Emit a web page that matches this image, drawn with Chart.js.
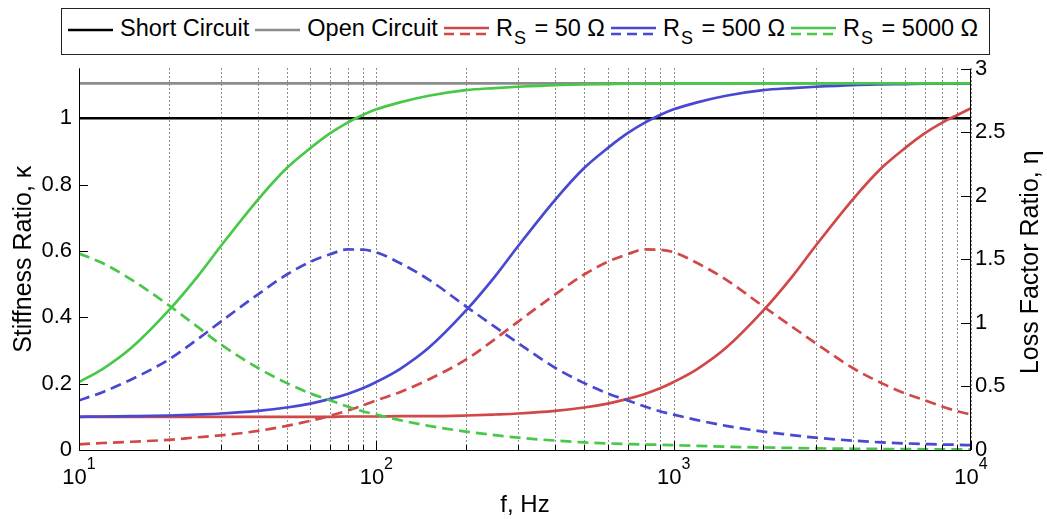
<!DOCTYPE html>
<html>
<head>
<meta charset="UTF-8">
<title>Stiffness and loss factor ratio vs frequency</title>
<script src="https://cdn.jsdelivr.net/npm/chart.js"></script>
<style>
  body { margin: 0; background: #fff; font-family: "Liberation Sans", Arial, sans-serif; }
  #wrap { position: relative; width: 1047px; height: 519px; }
  #legend {
    position: absolute; left: 61px; top: 8px; width: 921px; height: 45px;
    border: 1px solid #222; background: #fff; display: flex; align-items: center;
    font-size: 23.5px; color: #000; padding-left: 6px; box-sizing: content-box;
  }
  #legend .item { display: flex; align-items: center; margin-right: 6px; }
  #legend svg { margin-right: 7px; }
  #legend .txt { position: relative; top: -3px; white-space: nowrap; }
  #legend sub { font-size: 18px; vertical-align: -8px; line-height: 0; margin-left: 1px; margin-right: 2px; }
</style>
</head>
<body>
<div id="wrap">
  <canvas id="chart" width="1047" height="519"></canvas>
  <div id="legend"></div>
</div>

<script>
// frequencies (Hz) where the curves were read
const freq = [10, 12, 15, 20, 25, 30, 40, 50, 60, 70, 80, 90, 100, 120, 150, 200, 250, 300, 400, 500,
              600, 700, 800, 900, 1000, 1200, 1500, 2000, 2500, 3000, 4000, 5000, 6000, 7000, 8000, 9000, 10000];

// stiffness ratio kappa (left axis)
const kappa50 = [0.1, 0.1, 0.1, 0.1, 0.1, 0.1, 0.1, 0.1, 0.1, 0.1, 0.101, 0.101, 0.101, 0.102, 0.102, 0.104, 0.107, 0.11, 0.118, 0.128,
                 0.14, 0.154, 0.169, 0.186, 0.205, 0.244, 0.308, 0.42, 0.522, 0.615, 0.755, 0.85, 0.91, 0.955, 0.987, 1.01, 1.03];
const kappa500 = [0.1, 0.101, 0.102, 0.104, 0.107, 0.11, 0.118, 0.128, 0.14, 0.154, 0.169, 0.186, 0.205, 0.244, 0.308, 0.42, 0.522, 0.615, 0.755, 0.85,
                  0.91, 0.955, 0.987, 1.01, 1.027, 1.048, 1.068, 1.085, 1.091, 1.095, 1.1, 1.102, 1.103, 1.104, 1.104, 1.104, 1.105];
const kappa5000 = [0.205, 0.244, 0.308, 0.42, 0.522, 0.615, 0.755, 0.85, 0.91, 0.955, 0.987, 1.01, 1.027, 1.048, 1.068, 1.085, 1.091, 1.095, 1.1, 1.102,
                   1.103, 1.104, 1.104, 1.104, 1.105, 1.105, 1.105, 1.105, 1.105, 1.105, 1.105, 1.105, 1.105, 1.105, 1.105, 1.105, 1.105];

// loss factor ratio eta (right axis)
const eta50 = [0.045, 0.055, 0.065, 0.08, 0.1, 0.115, 0.15, 0.19, 0.23, 0.27, 0.31, 0.35, 0.39, 0.455, 0.555, 0.71, 0.87, 1.01, 1.224, 1.38,
               1.48, 1.54, 1.577, 1.575, 1.555, 1.47, 1.34, 1.13, 0.97, 0.84, 0.645, 0.526, 0.445, 0.39, 0.342, 0.305, 0.278];
const eta500 = [0.39, 0.455, 0.555, 0.71, 0.87, 1.01, 1.224, 1.38, 1.48, 1.54, 1.577, 1.575, 1.555, 1.47, 1.34, 1.13, 0.97, 0.84, 0.645, 0.526,
                0.445, 0.39, 0.342, 0.305, 0.278, 0.235, 0.19, 0.145, 0.117, 0.097, 0.074, 0.06, 0.052, 0.047, 0.043, 0.041, 0.038];
const eta5000 = [1.545, 1.47, 1.34, 1.14, 0.97, 0.83, 0.645, 0.526, 0.445, 0.39, 0.342, 0.305, 0.278, 0.235, 0.19, 0.145, 0.117, 0.097, 0.074, 0.06,
                 0.052, 0.047, 0.043, 0.041, 0.038, 0.032, 0.026, 0.02, 0.016, 0.013, 0.01, 0.008, 0.007, 0.006, 0.005, 0.005, 0.004];

// reference lines
const freqEnds = [10, 10000];
const shortCircuit = [1, 1];
const openCircuit = [1.105, 1.105];

// axes
const gridFreqs = [10, 20, 30, 40, 50, 60, 70, 80, 90, 100, 200, 300, 400, 500, 600, 700, 800, 900,
                   1000, 2000, 3000, 4000, 5000, 6000, 7000, 8000, 9000, 10000];
const xMajor = [10, 100, 1000, 10000];
const xExp = ['1', '2', '3', '4'];
const kappaTicks = [0, 0.2, 0.4, 0.6, 0.8, 1];
const etaTicks = [0, 0.5, 1, 1.5, 2, 2.5, 3];

const RED = '#d04848', BLUE = '#4848d0', GREEN = '#48c848', GRAY = '#8c8c8c';
const FONT = '"Liberation Sans", Arial, sans-serif';

function pts(xs, ys) { return xs.map((x, i) => ({ x: x, y: ys[i] })); }

function line(label, xs, ys, color, axis, dashed, order) {
  return {
    label: label, data: pts(xs, ys), yAxisID: axis, borderColor: color,
    borderWidth: 2.7, borderDash: dashed ? [11, 6] : [], pointRadius: 0,
    cubicInterpolationMode: 'monotone', fill: false, order: order
  };
}

// legend (html)
const legendItems = [
  { text: 'Short Circuit', color: '#000', both: false },
  { text: 'Open Circuit', color: GRAY, both: false },
  { text: 'R<sub>S</sub> = 50 Ω', color: RED, both: true },
  { text: 'R<sub>S</sub> = 500 Ω', color: BLUE, both: true },
  { text: 'R<sub>S</sub> = 5000 Ω', color: GREEN, both: true }
];
const legend = document.getElementById('legend');
legendItems.forEach(it => {
  let svg = '<svg width="45" height="16">';
  if (it.both) {
    svg += '<line x1="0" y1="4" x2="45" y2="4" stroke="' + it.color + '" stroke-width="2.7"/>';
    svg += '<line x1="0" y1="10" x2="45" y2="10" stroke="' + it.color + '" stroke-width="2.7" stroke-dasharray="10 6"/>';
  } else {
    svg += '<line x1="0" y1="6" x2="45" y2="6" stroke="' + it.color + '" stroke-width="2.7"/>';
  }
  svg += '</svg>';
  legend.insertAdjacentHTML('beforeend', '<span class="item">' + svg + '<span class="txt">' + it.text + '</span></span>');
});

// dotted vertical grid under the curves
const dottedGrid = {
  id: 'dottedGrid',
  beforeDatasetsDraw(chart) {
    const { ctx, chartArea: a, scales: { x } } = chart;
    ctx.save();
    ctx.strokeStyle = '#1a1a1a';
    ctx.lineWidth = 1;
    ctx.setLineDash([1, 3]);
    ctx.beginPath();
    gridFreqs.forEach(f => {
      const px = Math.round(x.getPixelForValue(f)) + 0.5;
      ctx.moveTo(px, a.top); ctx.lineTo(px, a.bottom);
    });
    ctx.stroke();
    ctx.restore();
  }
};

// inward ticks, axis lines, superscript x labels and axis titles
const axisDecor = {
  id: 'axisDecor',
  afterDraw(chart) {
    const { ctx, chartArea: a, scales } = chart;
    const x = scales.x, yK = scales.yK, yE = scales.yE;
    ctx.save();
    ctx.strokeStyle = '#000';
    ctx.lineWidth = 1;
    ctx.beginPath();
    ctx.moveTo(a.left + 0.5, a.top); ctx.lineTo(a.left + 0.5, a.bottom + 0.5);
    ctx.lineTo(a.right - 0.5, a.bottom + 0.5); ctx.lineTo(a.right - 0.5, a.top);
    kappaTicks.forEach(v => {
      const py = Math.round(yK.getPixelForValue(v)) + 0.5;
      ctx.moveTo(a.left, py); ctx.lineTo(a.left + 9, py);
    });
    etaTicks.forEach(v => {
      const py = Math.round(yE.getPixelForValue(v)) + 0.5;
      ctx.moveTo(a.right, py); ctx.lineTo(a.right - 10, py);
    });
    gridFreqs.forEach(f => {
      const px = Math.round(x.getPixelForValue(f)) + 0.5;
      const len = xMajor.includes(f) ? 9 : 5;
      ctx.moveTo(px, a.bottom); ctx.lineTo(px, a.bottom - len);
    });
    ctx.stroke();

    ctx.fillStyle = '#000';
    ctx.textBaseline = 'alphabetic';
    ctx.textAlign = 'left';
    xMajor.forEach((f, i) => {
      const px = x.getPixelForValue(f);
      ctx.font = '22px ' + FONT;
      const wb = ctx.measureText('10').width;
      ctx.font = '16px ' + FONT;
      const we = ctx.measureText(xExp[i]).width;
      const sx = px - (wb + we) / 2;
      ctx.font = '22px ' + FONT;
      ctx.fillText('10', sx, a.bottom + 34);
      ctx.font = '16px ' + FONT;
      ctx.fillText(xExp[i], sx + wb, a.bottom + 19);
    });

    ctx.font = '24px ' + FONT;
    ctx.textAlign = 'center';
    ctx.fillText('f, Hz', (a.left + a.right) / 2, a.bottom + 62);
    const cy = (a.top + a.bottom) / 2;
    ctx.font = '25px ' + FONT;
    ctx.save();
    ctx.translate(31, cy); ctx.rotate(-Math.PI / 2);
    ctx.fillText('Stiffness Ratio, κ', 0, 0);
    ctx.restore();
    ctx.save();
    ctx.translate(1038, cy + 3); ctx.rotate(-Math.PI / 2);
    ctx.fillText('Loss Factor Ratio, η', 0, 0);
    ctx.restore();
    ctx.restore();
  }
};

Chart.defaults.font.family = FONT;
Chart.defaults.color = '#000';

new Chart(document.getElementById('chart'), {
  type: 'line',
  data: {
    datasets: [
      line('Short Circuit', freqEnds, shortCircuit, '#000', 'yK', false, 8),
      line('Open Circuit', freqEnds, openCircuit, GRAY, 'yK', false, 7),
      line('RS = 50 Ω', freq, kappa50, RED, 'yK', false, 5),
      line('RS = 50 Ω loss', freq, eta50, RED, 'yE', true, 6),
      line('RS = 500 Ω', freq, kappa500, BLUE, 'yK', false, 3),
      line('RS = 500 Ω loss', freq, eta500, BLUE, 'yE', true, 4),
      line('RS = 5000 Ω', freq, kappa5000, GREEN, 'yK', false, 1),
      line('RS = 5000 Ω loss', freq, eta5000, GREEN, 'yE', true, 2)
    ]
  },
  options: {
    responsive: false,
    devicePixelRatio: 1,
    animation: false,
    layout: { padding: { top: 68.5, bottom: 69, left: 0, right: 0 } },
    plugins: { legend: { display: false }, tooltip: { enabled: false } },
    scales: {
      x: {
        type: 'logarithmic', min: 10, max: 10000,
        afterBuildTicks: s => { s.ticks = gridFreqs.map(v => ({ value: v })); },
        ticks: { display: false },
        grid: { display: false, drawTicks: false },
        border: { display: false },
        afterFit: s => { s.height = 0; }
      },
      yK: {
        type: 'linear', position: 'left', min: 0, max: 1.15,
        afterBuildTicks: s => { s.ticks = kappaTicks.map(v => ({ value: v })); },
        ticks: { font: { size: 22 }, padding: 7, callback: v => String(v) },
        grid: { display: false, drawTicks: false },
        border: { display: false },
        afterFit: s => { s.width = 79; }
      },
      yE: {
        type: 'linear', position: 'right', min: 0, max: 3,
        afterBuildTicks: s => { s.ticks = etaTicks.map(v => ({ value: v })); },
        ticks: { font: { size: 22 }, padding: 4, callback: v => String(v) },
        grid: { display: false, drawTicks: false },
        border: { display: false },
        afterFit: s => { s.width = 76; }
      }
    }
  },
  plugins: [dottedGrid, axisDecor]
});
</script>
</body>
</html>
